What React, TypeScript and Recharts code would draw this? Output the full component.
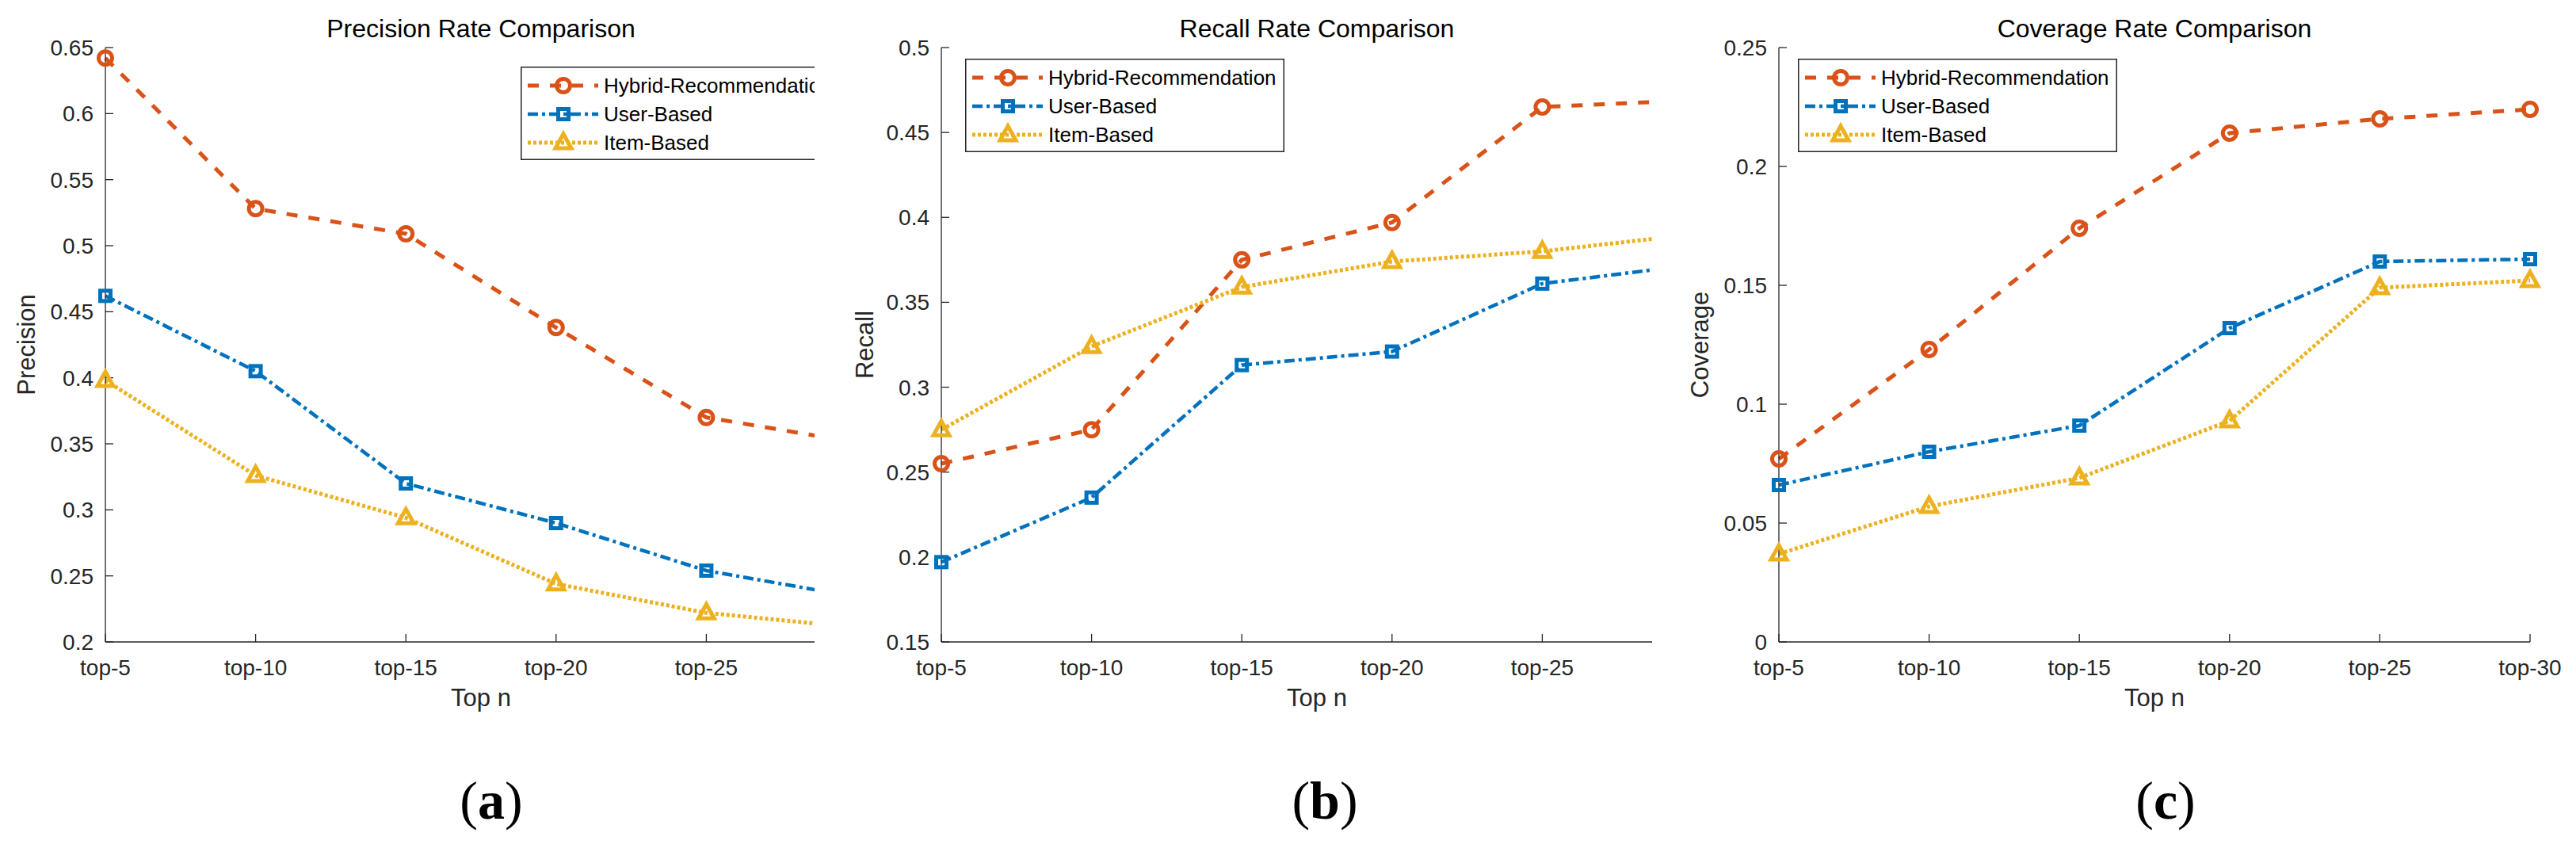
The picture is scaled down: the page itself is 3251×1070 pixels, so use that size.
import React from 'react';
import { LineChart, Line, XAxis, YAxis } from 'recharts';

// x categories shared by all three panels
const categories = ['top-5', 'top-10', 'top-15', 'top-20', 'top-25', 'top-30'];

// (a) precision
const precisionHybrid = [0.642, 0.528, 0.509, 0.438, 0.37, 0.351];
const precisionUser = [0.462, 0.405, 0.32, 0.29, 0.254, 0.234];
const precisionItem = [0.398, 0.326, 0.294, 0.244, 0.222, 0.211];
const precisionTicks = [0.2, 0.25, 0.3, 0.35, 0.4, 0.45, 0.5, 0.55, 0.6, 0.65];

// (b) recall
const recallHybrid = [0.255, 0.275, 0.375, 0.397, 0.465, 0.469];
const recallUser = [0.197, 0.235, 0.313, 0.321, 0.361, 0.372];
const recallItem = [0.275, 0.324, 0.359, 0.374, 0.38, 0.39];
const recallTicks = [0.15, 0.2, 0.25, 0.3, 0.35, 0.4, 0.45, 0.5];

// (c) coverage
const coverageHybrid = [0.077, 0.123, 0.174, 0.214, 0.22, 0.224];
const coverageUser = [0.066, 0.08, 0.091, 0.132, 0.16, 0.161];
const coverageItem = [0.037, 0.057, 0.069, 0.093, 0.149, 0.152];
const coverageTicks = [0, 0.05, 0.1, 0.15, 0.2, 0.25];

const seriesNames = ['Hybrid-Recommendation', 'User-Based', 'Item-Based'];

const SANS = "'Liberation Sans', Arial, Helvetica, sans-serif";
const AXIS = '#262626';

const styles = [
  { key: 'hybrid', color: '#D95319', width: 5, dash: '14 14', marker: 'circle' },
  { key: 'user', color: '#0072BD', width: 4.5, dash: '13 5 4 5', marker: 'square' },
  { key: 'item', color: '#EDB120', width: 5, dash: '4 3', marker: 'triangle' },
];

function Marker({ kind, cx, cy, color }: any) {
  if (cx == null || cy == null) return null;
  if (kind === 'circle')
    return <circle cx={cx} cy={cy} r={8.5} fill="none" stroke={color} strokeWidth={5} />;
  if (kind === 'square')
    return <rect x={cx - 6.5} y={cy - 6.5} width={13} height={13} fill="none" stroke={color} strokeWidth={5} />;
  return (
    <path
      d={`M${cx},${cy - 11} L${cx + 10},${cy + 7} L${cx - 10},${cy + 7} Z`}
      fill="none"
      stroke={color}
      strokeWidth={5}
      strokeLinejoin="miter"
    />
  );
}

function LegendBox({ left, top }: { left: number; top: number }) {
  return (
    <svg style={{ position: 'absolute', left, top }} width={403} height={118}>
      <rect x={0.75} y={0.75} width={401.5} height={116.5} fill="#fff" stroke={AXIS} strokeWidth={1.5} />
      {styles.map((s, i) => {
        const y = 24 + i * 36;
        return (
          <g key={s.key}>
            <line x1={9} x2={98} y1={y} y2={y} stroke={s.color} strokeWidth={s.width} strokeDasharray={s.dash} />
            <Marker kind={s.marker} cx={54} cy={y} color={s.color} />
            <text x={105} y={y + 9} fontSize={26} fill="#000" fontFamily={SANS}>
              {seriesNames[i]}
            </text>
          </g>
        );
      })}
    </svg>
  );
}

const fmt = (v: number) => String(Number(v.toFixed(2)));

interface PanelProps {
  left: number;
  crop: number;
  title: string;
  yLabel: string;
  yLabelOffset: number;
  ticks: number[];
  series: number[][];
  legendLeft: number;
  legendTop: number;
}

function Panel({ left, crop, title, yLabel, yLabelOffset, ticks, series, legendLeft, legendTop }: PanelProps) {
  const data = categories.map((cat, i) => ({
    cat,
    hybrid: series[0][i],
    user: series[1][i],
    item: series[2][i],
  }));
  return (
    <div style={{ position: 'absolute', left, top: 0, width: crop, height: 900, overflow: 'hidden' }}>
      <div
        style={{
          position: 'absolute',
          left: 0,
          top: 20,
          width: 1214,
          textAlign: 'center',
          fontFamily: SANS,
          fontSize: 32,
          lineHeight: '32px',
          color: '#000',
          whiteSpace: 'nowrap',
        }}
      >
        {title}
      </div>
      <LineChart
        width={1139}
        height={900}
        data={data}
        margin={{ top: 60, right: 58, bottom: 0, left: 0 }}
        style={{ fontFamily: SANS }}
      >
        <XAxis
          dataKey="cat"
          scale="point"
          padding={{ left: 0, right: 0 }}
          interval={0}
          height={90}
          tickSize={-10}
          tickMargin={32}
          axisLine={{ stroke: AXIS, strokeWidth: 1.3 }}
          tickLine={{ stroke: AXIS, strokeWidth: 1.3 }}
          tick={{ fill: AXIS, fontSize: 28 }}
          label={{ value: 'Top n', position: 'insideBottom', offset: 9, fill: AXIS, fontSize: 31 }}
        />
        <YAxis
          type="number"
          width={133}
          domain={[ticks[0], ticks[ticks.length - 1]]}
          ticks={ticks}
          interval={0}
          tickFormatter={fmt}
          tickSize={-10}
          tickMargin={25}
          axisLine={{ stroke: AXIS, strokeWidth: 1.3 }}
          tickLine={{ stroke: AXIS, strokeWidth: 1.3 }}
          tick={{ fill: AXIS, fontSize: 28 }}
          label={{
            value: yLabel,
            angle: -90,
            position: 'insideLeft',
            offset: yLabelOffset,
            fill: AXIS,
            fontSize: 31,
            style: { textAnchor: 'middle' },
          }}
        />
        {styles.map((s) => (
          <Line
            key={s.key}
            type="linear"
            dataKey={s.key}
            stroke={s.color}
            strokeWidth={s.width}
            strokeDasharray={s.dash}
            isAnimationActive={false}
            dot={(p: any) => <Marker key={`${s.key}-${p.index}`} kind={s.marker} cx={p.cx} cy={p.cy} color={s.color} />}
            activeDot={false}
          />
        ))}
      </LineChart>
      <LegendBox left={legendLeft} top={legendTop} />
    </div>
  );
}

function PanelLetter({ x, letter }: { x: number; letter: string }) {
  return (
    <div
      style={{
        position: 'absolute',
        left: x - 100,
        top: 976,
        width: 200,
        textAlign: 'center',
        fontFamily: "'Liberation Serif', 'Times New Roman', serif",
        fontSize: 68,
        lineHeight: '68px',
        color: '#000',
      }}
    >
      (<b>{letter}</b>)
    </div>
  );
}

export default function App() {
  return (
    <div style={{ position: 'absolute', left: 0, top: 0, width: 3251, height: 1070, background: '#fff', overflow: 'hidden' }}>
      <Panel
        left={0}
        crop={1028}
        title="Precision Rate Comparison"
        yLabel="Precision"
        yLabelOffset={33}
        ticks={precisionTicks}
        series={[precisionHybrid, precisionUser, precisionItem]}
        legendLeft={657}
        legendTop={84}
      />
      <Panel
        left={1055}
        crop={1030}
        title="Recall Rate Comparison"
        yLabel="Recall"
        yLabelOffset={36}
        ticks={recallTicks}
        series={[recallHybrid, recallUser, recallItem]}
        legendLeft={163}
        legendTop={74}
      />
      <Panel
        left={2112}
        crop={1139}
        title="Coverage Rate Comparison"
        yLabel="Coverage"
        yLabelOffset={33}
        ticks={coverageTicks}
        series={[coverageHybrid, coverageUser, coverageItem]}
        legendLeft={157}
        legendTop={74}
      />
      <PanelLetter x={620} letter="a" />
      <PanelLetter x={1672} letter="b" />
      <PanelLetter x={2733} letter="c" />
    </div>
  );
}
